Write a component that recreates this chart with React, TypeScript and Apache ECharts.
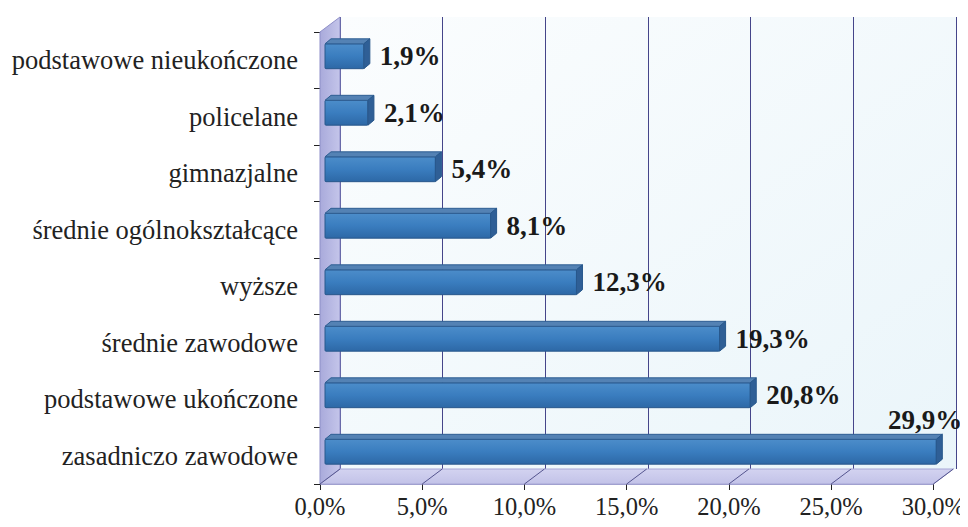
import React, { useEffect, useRef } from "react";
import * as echarts from "echarts";

const categories = [
  "podstawowe nieukończone",
  "policelane",
  "gimnazjalne",
  "średnie ogólnokształcące",
  "wyższe",
  "średnie zawodowe",
  "podstawowe ukończone",
  "zasadniczo zawodowe",
];
const values = [1.9, 2.1, 5.4, 8.1, 12.3, 19.3, 20.8, 29.9];
const tickValues = [0, 5, 10, 15, 20, 25, 30];

const fmt = (v: number) => v.toFixed(1).replace(".", ",") + "%";

// layout constants
const GL = 320, GW = 616, GT = 32, GH = 452;
const DX = 20, DY = -15; // depth of the 3D box
const BX = 5, BY = -4; // bar placement inside the box
const BDX = 6, BDY = -5; // bar depth

export default function App() {
  const ref = useRef<HTMLDivElement>(null);
  useEffect(() => {
    const chart = echarts.init(ref.current!, undefined, { renderer: "svg" });
    const serif = "Liberation Serif";
    chart.setOption({
      animation: false,
      backgroundColor: "#ffffff",
      textStyle: { fontFamily: serif },
      grid: [
        { left: GL, width: GW, top: GT, height: GH },
        {
          left: GL + DX,
          width: GW,
          top: GT + DY,
          height: GH,
          show: true,
          borderWidth: 0,
          backgroundColor: new echarts.graphic.LinearGradient(0, 0, 1, 1, [
            { offset: 0, color: "#fbfdfe" },
            { offset: 1, color: "#eaf5fa" },
          ]),
        },
      ],
      xAxis: [
        {
          type: "value",
          gridIndex: 0,
          min: 0,
          max: 30,
          interval: 5,
          splitLine: { show: false },
          axisLine: { show: true, lineStyle: { color: "#9a9ac8", width: 1 } },
          axisTick: { show: true, length: 6, lineStyle: { color: "#222" } },
          axisLabel: {
            formatter: (v: number) => fmt(v),
            fontFamily: serif,
            fontSize: 24.5,
            color: "#222",
            margin: 10,
          },
        },
        {
          type: "value",
          gridIndex: 1,
          min: 0,
          max: 30,
          interval: 5,
          axisLine: { show: false },
          axisTick: { show: false },
          axisLabel: { show: false },
          splitLine: { show: true, lineStyle: { color: "#45458a", width: 1 } },
        },
      ],
      yAxis: [
        {
          type: "category",
          gridIndex: 0,
          data: categories,
          inverse: true,
          axisLine: { show: true, lineStyle: { color: "#8c8cc4" } },
          axisTick: { show: true, length: 6, lineStyle: { color: "#222" } },
          axisLabel: {
            fontFamily: serif,
            fontSize: 26.5,
            color: "#222",
            margin: 22,
          },
        },
        {
          type: "category",
          gridIndex: 1,
          data: categories,
          inverse: true,
          show: false,
        },
      ],
      series: [
        {
          type: "custom",
          name: "walls",
          xAxisIndex: 0,
          yAxisIndex: 0,
          clip: false,
          silent: true,
          z: 1,
          data: [[0, 0]],
          renderItem: (params: any, api: any) => {
            const cs = params.coordSys;
            const x0 = cs.x, y0 = cs.y, w = cs.width, h = cs.height;
            const children: any[] = [];
            children.push({
              type: "polygon",
              shape: {
                points: [
                  [x0, y0],
                  [x0 + DX, y0 + DY],
                  [x0 + DX, y0 + h + DY],
                  [x0, y0 + h],
                ],
              },
              style: {
                fill: new echarts.graphic.LinearGradient(0, 0, 1, 0, [
                  { offset: 0, color: "#a9aadb" },
                  { offset: 1, color: "#c4c5ea" },
                ]),
                stroke: "#8e8fc8",
                lineWidth: 1,
              },
            });
            children.push({
              type: "polygon",
              shape: {
                points: [
                  [x0, y0 + h],
                  [x0 + w, y0 + h],
                  [x0 + w + DX, y0 + h + DY],
                  [x0 + DX, y0 + h + DY],
                ],
              },
              style: {
                fill: new echarts.graphic.LinearGradient(0, 0, 0, 1, [
                  { offset: 0, color: "#d3d3f0" },
                  { offset: 1, color: "#c2c2e8" },
                ]),
                stroke: "#a6a6d6",
                lineWidth: 1,
              },
            });
            tickValues.forEach((t) => {
              const p = api.coord([t, 0]);
              children.push({
                type: "line",
                shape: { x1: p[0], y1: y0 + h, x2: p[0] + DX, y2: y0 + h + DY },
                style: { stroke: "#55558f", lineWidth: 1 },
              });
            });
            return { type: "group", children };
          },
        },
        {
          type: "custom",
          name: "bars",
          xAxisIndex: 0,
          yAxisIndex: 0,
          clip: false,
          z: 3,
          data: values.map((v, i) => [v, i]),
          renderItem: (params: any, api: any) => {
            const v = api.value(0);
            const cat = api.value(1);
            const cs = params.coordSys;
            const start = api.coord([0, cat]);
            const end = api.coord([v, cat]);
            const band = api.size([0, 1])[1];
            const bh = band * 0.44;
            const xa = start[0] + BX;
            const xb = end[0] + BX;
            const yc = start[1] + BY;
            const yt = yc - bh / 2;
            const yb = yc + bh / 2;
            const label = fmt(v);
            let lx = xb + BDX + 10;
            let ly = yc;
            let align = "left";
            let valign = "middle";
            if (lx + 70 > cs.x + cs.width + DX) {
              lx = xb + 26;
              ly = yt + BDY - 1;
              align = "right";
              valign = "bottom";
            }
            return {
              type: "group",
              children: [
                {
                  type: "rect",
                  shape: { x: xa, y: yt, width: xb - xa, height: bh, r: 1 },
                  style: {
                    fill: new echarts.graphic.LinearGradient(0, 0, 0, 1, [
                      { offset: 0, color: "#4c8dca" },
                      { offset: 0.5, color: "#3a7dbf" },
                      { offset: 1, color: "#2d68a6" },
                    ]),
                    stroke: "#28588c",
                    lineWidth: 1,
                  },
                },
                {
                  type: "polygon",
                  shape: {
                    points: [
                      [xa, yt],
                      [xa + BDX, yt + BDY],
                      [xb + BDX, yt + BDY],
                      [xb, yt],
                    ],
                  },
                  style: { fill: "#5482b4", stroke: "#2e5e92", lineWidth: 1 },
                },
                {
                  type: "polygon",
                  shape: {
                    points: [
                      [xb, yt],
                      [xb + BDX, yt + BDY],
                      [xb + BDX, yb + BDY],
                      [xb, yb],
                    ],
                  },
                  style: { fill: "#2f5f96", stroke: "#28588c", lineWidth: 1 },
                },
                {
                  type: "text",
                  z2: 10,
                  style: {
                    text: label,
                    x: lx,
                    y: ly,
                    align,
                    verticalAlign: valign,
                    textAlign: align,
                    textVerticalAlign: valign,
                    font: "bold 27px 'Liberation Serif', serif",
                    fill: "#1a1a1a",
                  },
                },
              ],
            };
          },
        },
      ],
    });
    return () => chart.dispose();
  }, []);
  return <div ref={ref} style={{ width: 968, height: 527, margin: -8 }} />;
}
